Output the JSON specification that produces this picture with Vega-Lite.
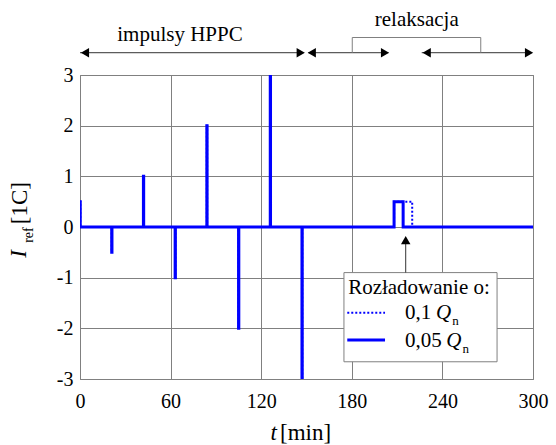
{
  "$schema": "https://vega.github.io/schema/vega-lite/v6.json",
  "autosize": "none",
  "width": 453,
  "height": 304,
  "padding": {"left": 80, "top": 75, "right": 23, "bottom": 66},
  "background": "white",
  "config": {
    "font": "Liberation Serif, Times New Roman, serif",
    "text": {"font": "Liberation Serif, Times New Roman, serif"},
    "view": {"stroke": "#808080", "strokeWidth": 1},
    "axis": {"grid": true, "gridColor": "#808080", "gridOpacity": 1, "gridWidth": 1, "domain": false, "ticks": false, "labelFlush": false, "labelFont": "Liberation Serif, Times New Roman, serif", "labelFontSize": 20, "labelColor": "black", "title": null}
  },
  "datasets": {
    "curves": [
      {"i": 0, "t": 0, "I": 0, "s": "0,05 Qn"},
      {"i": 1, "t": 0, "I": 0.5, "s": "0,05 Qn"},
      {"i": 2, "t": 0.17, "I": 0.5, "s": "0,05 Qn"},
      {"i": 3, "t": 0.17, "I": 0, "s": "0,05 Qn"},
      {"i": 4, "t": 21, "I": 0, "s": "0,05 Qn"},
      {"i": 5, "t": 21, "I": -0.5, "s": "0,05 Qn"},
      {"i": 6, "t": 21.17, "I": -0.5, "s": "0,05 Qn"},
      {"i": 7, "t": 21.17, "I": 0, "s": "0,05 Qn"},
      {"i": 8, "t": 42, "I": 0, "s": "0,05 Qn"},
      {"i": 9, "t": 42, "I": 1, "s": "0,05 Qn"},
      {"i": 10, "t": 42.17, "I": 1, "s": "0,05 Qn"},
      {"i": 11, "t": 42.17, "I": 0, "s": "0,05 Qn"},
      {"i": 12, "t": 63, "I": 0, "s": "0,05 Qn"},
      {"i": 13, "t": 63, "I": -1, "s": "0,05 Qn"},
      {"i": 14, "t": 63.17, "I": -1, "s": "0,05 Qn"},
      {"i": 15, "t": 63.17, "I": 0, "s": "0,05 Qn"},
      {"i": 16, "t": 84, "I": 0, "s": "0,05 Qn"},
      {"i": 17, "t": 84, "I": 2, "s": "0,05 Qn"},
      {"i": 18, "t": 84.17, "I": 2, "s": "0,05 Qn"},
      {"i": 19, "t": 84.17, "I": 0, "s": "0,05 Qn"},
      {"i": 20, "t": 105, "I": 0, "s": "0,05 Qn"},
      {"i": 21, "t": 105, "I": -2, "s": "0,05 Qn"},
      {"i": 22, "t": 105.17, "I": -2, "s": "0,05 Qn"},
      {"i": 23, "t": 105.17, "I": 0, "s": "0,05 Qn"},
      {"i": 24, "t": 126, "I": 0, "s": "0,05 Qn"},
      {"i": 25, "t": 126, "I": 3, "s": "0,05 Qn"},
      {"i": 26, "t": 126.17, "I": 3, "s": "0,05 Qn"},
      {"i": 27, "t": 126.17, "I": 0, "s": "0,05 Qn"},
      {"i": 28, "t": 147, "I": 0, "s": "0,05 Qn"},
      {"i": 29, "t": 147, "I": -3, "s": "0,05 Qn"},
      {"i": 30, "t": 147.17, "I": -3, "s": "0,05 Qn"},
      {"i": 31, "t": 147.17, "I": 0, "s": "0,05 Qn"},
      {"i": 32, "t": 208, "I": 0, "s": "0,05 Qn"},
      {"i": 33, "t": 208, "I": 0.5, "s": "0,05 Qn"},
      {"i": 34, "t": 214, "I": 0.5, "s": "0,05 Qn"},
      {"i": 35, "t": 214, "I": 0, "s": "0,05 Qn"},
      {"i": 36, "t": 300, "I": 0, "s": "0,05 Qn"},
      {"i": 0, "t": 0, "I": 0, "s": "0,1 Qn"},
      {"i": 1, "t": 0, "I": 0.5, "s": "0,1 Qn"},
      {"i": 2, "t": 0.17, "I": 0.5, "s": "0,1 Qn"},
      {"i": 3, "t": 0.17, "I": 0, "s": "0,1 Qn"},
      {"i": 4, "t": 21, "I": 0, "s": "0,1 Qn"},
      {"i": 5, "t": 21, "I": -0.5, "s": "0,1 Qn"},
      {"i": 6, "t": 21.17, "I": -0.5, "s": "0,1 Qn"},
      {"i": 7, "t": 21.17, "I": 0, "s": "0,1 Qn"},
      {"i": 8, "t": 42, "I": 0, "s": "0,1 Qn"},
      {"i": 9, "t": 42, "I": 1, "s": "0,1 Qn"},
      {"i": 10, "t": 42.17, "I": 1, "s": "0,1 Qn"},
      {"i": 11, "t": 42.17, "I": 0, "s": "0,1 Qn"},
      {"i": 12, "t": 63, "I": 0, "s": "0,1 Qn"},
      {"i": 13, "t": 63, "I": -1, "s": "0,1 Qn"},
      {"i": 14, "t": 63.17, "I": -1, "s": "0,1 Qn"},
      {"i": 15, "t": 63.17, "I": 0, "s": "0,1 Qn"},
      {"i": 16, "t": 84, "I": 0, "s": "0,1 Qn"},
      {"i": 17, "t": 84, "I": 2, "s": "0,1 Qn"},
      {"i": 18, "t": 84.17, "I": 2, "s": "0,1 Qn"},
      {"i": 19, "t": 84.17, "I": 0, "s": "0,1 Qn"},
      {"i": 20, "t": 105, "I": 0, "s": "0,1 Qn"},
      {"i": 21, "t": 105, "I": -2, "s": "0,1 Qn"},
      {"i": 22, "t": 105.17, "I": -2, "s": "0,1 Qn"},
      {"i": 23, "t": 105.17, "I": 0, "s": "0,1 Qn"},
      {"i": 24, "t": 126, "I": 0, "s": "0,1 Qn"},
      {"i": 25, "t": 126, "I": 3, "s": "0,1 Qn"},
      {"i": 26, "t": 126.17, "I": 3, "s": "0,1 Qn"},
      {"i": 27, "t": 126.17, "I": 0, "s": "0,1 Qn"},
      {"i": 28, "t": 147, "I": 0, "s": "0,1 Qn"},
      {"i": 29, "t": 147, "I": -3, "s": "0,1 Qn"},
      {"i": 30, "t": 147.17, "I": -3, "s": "0,1 Qn"},
      {"i": 31, "t": 147.17, "I": 0, "s": "0,1 Qn"},
      {"i": 32, "t": 208, "I": 0, "s": "0,1 Qn"},
      {"i": 33, "t": 208, "I": 0.5, "s": "0,1 Qn"},
      {"i": 34, "t": 220, "I": 0.5, "s": "0,1 Qn"},
      {"i": 35, "t": 220, "I": 0, "s": "0,1 Qn"},
      {"i": 36, "t": 300, "I": 0, "s": "0,1 Qn"}
    ]
  },
  "layer": [
    {
      "data": {"name": "curves"},
      "transform": [{"filter": "datum.s === '0,1 Qn'"}],
      "mark": {"type": "line", "color": "#0000FF", "strokeWidth": 2, "strokeDash": [2, 2], "clip": true},
      "encoding": {
        "x": {"field": "t", "type": "quantitative", "scale": {"domain": [0, 300], "nice": false, "zero": false}, "axis": {"values": [0, 60, 120, 180, 240, 300], "labelPadding": 12}},
        "y": {"field": "I", "type": "quantitative", "scale": {"domain": [-3, 3], "nice": false}, "axis": {"values": [-3, -2, -1, 0, 1, 2, 3], "labelExpr": "datum.value", "labelPadding": 7}},
        "order": {"field": "i", "type": "quantitative"}
      }
    },
    {
      "data": {"name": "curves"},
      "transform": [{"filter": "datum.s === '0,05 Qn'"}],
      "mark": {"type": "line", "color": "#0000FF", "strokeWidth": 3, "clip": true},
      "encoding": {
        "x": {"field": "t", "type": "quantitative"},
        "y": {"field": "I", "type": "quantitative"},
        "order": {"field": "i", "type": "quantitative"}
      }
    },
    {
      "data": {"values": [
        {"a": 0, "b": 147.9, "y": 3.44},
        {"a": 151.2, "b": 204.2, "y": 3.44},
        {"a": 226.3, "b": 299, "y": 3.44}
      ]},
      "mark": {"type": "rule", "color": "#333333", "strokeWidth": 1},
      "encoding": {"x": {"field": "a", "type": "quantitative"}, "x2": {"field": "b"}, "y": {"field": "y", "type": "quantitative"}}
    },
    {
      "data": {"values": [
        {"a": 180.3, "b": 265.4, "y": 3.74, "y2": 3.74},
        {"a": 180.3, "b": 180.3, "y": 3.44, "y2": 3.74},
        {"a": 265.4, "b": 265.4, "y": 3.44, "y2": 3.74}
      ]},
      "mark": {"type": "rule", "color": "#808080", "strokeWidth": 1},
      "encoding": {"x": {"field": "a", "type": "quantitative"}, "x2": {"field": "b"}, "y": {"field": "y", "type": "quantitative"}, "y2": {"field": "y2"}}
    },
    {
      "data": {"values": [{"t": 3.3, "y": 3.44}, {"t": 153.5, "y": 3.44}, {"t": 229.6, "y": 3.44}]},
      "mark": {"type": "point", "shape": "triangle-left", "filled": true, "color": "black", "size": 90, "opacity": 1},
      "encoding": {"x": {"field": "t", "type": "quantitative"}, "y": {"field": "y", "type": "quantitative"}}
    },
    {
      "data": {"values": [{"t": 146.2, "y": 3.44}, {"t": 202, "y": 3.44}, {"t": 297.4, "y": 3.44}]},
      "mark": {"type": "point", "shape": "triangle-right", "filled": true, "color": "black", "size": 90, "opacity": 1},
      "encoding": {"x": {"field": "t", "type": "quantitative"}, "y": {"field": "y", "type": "quantitative"}}
    },
    {
      "data": {"values": [{"text": "impulsy HPPC", "t": 66.2, "y": 3.79}, {"text": "relaksacja", "t": 223, "y": 4.09}]},
      "mark": {"type": "text", "fontSize": 21, "color": "black", "baseline": "middle", "align": "center"},
      "encoding": {"x": {"field": "t", "type": "quantitative"}, "y": {"field": "y", "type": "quantitative"}, "text": {"field": "text"}}
    },
    {
      "data": {"values": [{"a": 174.8, "b": 276.2, "y": -0.9, "y2": -2.66}]},
      "mark": {"type": "rect", "fill": "white", "stroke": "#808080", "strokeWidth": 1},
      "encoding": {"x": {"field": "a", "type": "quantitative"}, "x2": {"field": "b"}, "y": {"field": "y", "type": "quantitative"}, "y2": {"field": "y2"}}
    },
    {
      "data": {"values": [{"t": 215.7, "y": -0.3, "y2": -0.9}]},
      "mark": {"type": "rule", "color": "#333333", "strokeWidth": 1},
      "encoding": {"x": {"field": "t", "type": "quantitative"}, "y": {"field": "y", "type": "quantitative"}, "y2": {"field": "y2"}}
    },
    {
      "data": {"values": [{"t": 215.7, "y": -0.26}]},
      "mark": {"type": "point", "shape": "triangle-up", "filled": true, "color": "black", "size": 90, "opacity": 1},
      "encoding": {"x": {"field": "t", "type": "quantitative"}, "y": {"field": "y", "type": "quantitative"}}
    },
    {
      "data": {"values": [{"a": 177, "b": 202, "y": -1.69}]},
      "mark": {"type": "rule", "color": "#0000FF", "strokeWidth": 2, "strokeDash": [2, 2]},
      "encoding": {"x": {"field": "a", "type": "quantitative"}, "x2": {"field": "b"}, "y": {"field": "y", "type": "quantitative"}}
    },
    {
      "data": {"values": [{"a": 177, "b": 202, "y": -2.23}]},
      "mark": {"type": "rule", "color": "#0000FF", "strokeWidth": 3},
      "encoding": {"x": {"field": "a", "type": "quantitative"}, "x2": {"field": "b"}, "y": {"field": "y", "type": "quantitative"}}
    },
    {
      "data": {"values": [{"text": "Rozładowanie o:", "t": 224.5, "y": -1.2}]},
      "mark": {"type": "text", "fontSize": 21, "color": "black", "baseline": "middle", "align": "center"},
      "encoding": {"x": {"field": "t", "type": "quantitative"}, "y": {"field": "y", "type": "quantitative"}, "text": {"field": "text"}}
    },
    {
      "data": {"values": [
        {"text": "0,1", "t": 215.3, "y": -1.7},
        {"text": "0,05", "t": 215.3, "y": -2.25}
      ]},
      "mark": {"type": "text", "fontSize": 21, "color": "black", "baseline": "middle", "align": "left"},
      "encoding": {"x": {"field": "t", "type": "quantitative"}, "y": {"field": "y", "type": "quantitative"}, "text": {"field": "text"}}
    },
    {
      "data": {"values": [
        {"text": "Q", "t": 235.8, "y": -1.7},
        {"text": "Q", "t": 242.5, "y": -2.25}
      ]},
      "mark": {"type": "text", "fontSize": 21, "fontStyle": "italic", "color": "black", "baseline": "middle", "align": "left"},
      "encoding": {"x": {"field": "t", "type": "quantitative"}, "y": {"field": "y", "type": "quantitative"}, "text": {"field": "text"}}
    },
    {
      "data": {"values": [
        {"text": "n", "t": 246.6, "y": -1.86},
        {"text": "n", "t": 253.3, "y": -2.41}
      ]},
      "mark": {"type": "text", "fontSize": 13, "color": "black", "baseline": "middle", "align": "left"},
      "encoding": {"x": {"field": "t", "type": "quantitative"}, "y": {"field": "y", "type": "quantitative"}, "text": {"field": "text"}}
    },
    {
      "data": {"values": [{"text": "t", "t": 128.2, "y": -4.07}]},
      "mark": {"type": "text", "fontSize": 23, "fontStyle": "italic", "color": "black", "baseline": "middle", "align": "center"},
      "encoding": {"x": {"field": "t", "type": "quantitative"}, "y": {"field": "y", "type": "quantitative"}, "text": {"field": "text"}}
    },
    {
      "data": {"values": [{"text": "[min]", "t": 132.5, "y": -4.07}]},
      "mark": {"type": "text", "fontSize": 23, "color": "black", "baseline": "middle", "align": "left"},
      "encoding": {"x": {"field": "t", "type": "quantitative"}, "y": {"field": "y", "type": "quantitative"}, "text": {"field": "text"}}
    },
    {
      "data": {"values": [{"text": "I", "t": -40.1, "y": -0.53}]},
      "mark": {"type": "text", "fontSize": 23, "fontStyle": "italic", "color": "black", "baseline": "middle", "align": "center", "angle": 270},
      "encoding": {"x": {"field": "t", "type": "quantitative"}, "y": {"field": "y", "type": "quantitative"}, "text": {"field": "text"}}
    },
    {
      "data": {"values": [{"text": "ref", "t": -34.1, "y": -0.16}]},
      "mark": {"type": "text", "fontSize": 14, "color": "black", "baseline": "middle", "align": "center", "angle": 270},
      "encoding": {"x": {"field": "t", "type": "quantitative"}, "y": {"field": "y", "type": "quantitative"}, "text": {"field": "text"}}
    },
    {
      "data": {"values": [{"text": "[1C]", "t": -39.7, "y": 0.47}]},
      "mark": {"type": "text", "fontSize": 23, "color": "black", "baseline": "middle", "align": "center", "angle": 270},
      "encoding": {"x": {"field": "t", "type": "quantitative"}, "y": {"field": "y", "type": "quantitative"}, "text": {"field": "text"}}
    }
  ]
}
